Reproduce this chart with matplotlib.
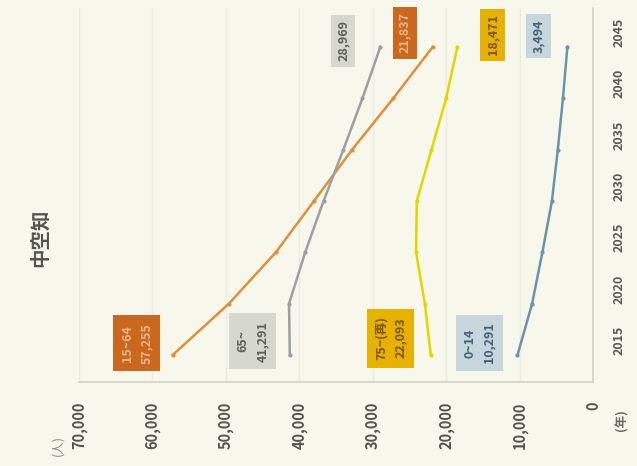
import matplotlib.pyplot as plt

plt.rcParams['font.family'] = ['Noto Sans CJK JP', 'DejaVu Sans']

# 中空知 年齢区分別人口の推移
years = [2015, 2020, 2025, 2030, 2035, 2040, 2045]
age_0_14 = [10291, 8300, 6900, 5600, 4800, 4100, 3494]
age_15_64 = [57255, 49600, 43200, 38000, 32800, 27200, 21837]
age_65 = [41291, 41400, 39200, 36700, 34000, 31400, 28969]
age_75 = [22093, 22900, 24100, 24000, 22000, 20000, 18471]

value_ticks = [0, 10000, 20000, 30000, 40000, 50000, 60000, 70000]

bg = '#f7f8eb'

fig = plt.figure(figsize=(6.37, 4.66), dpi=100, facecolor=bg)
ax = fig.add_axes([0.124, 0.180, 0.807, 0.803], facecolor=bg)

# 横倒しのレイアウト: 人口を横軸(右が0)、年を縦軸に取る
series = [
    # values, line color, box color, text color, name, start offset, end offset
    (age_15_64, '#e08e3c', '#c9681e', '#eab48a', '15~64', (-36, 12), (-28, 14)),
    (age_65, '#9d9ea6', '#d6d7cd', '#5e5f5a', '65~', (-37, 14), (-37, 6)),
    (age_75, '#e2d600', '#e6b100', '#7a5500', '75~(再)', (-40, 17), (35, 12)),
    (age_0_14, '#6d92aa', '#c6d6dc', '#3f6379', '0~14', (-38, 12), (-29, 11)),
]

for vals, lc, bc, tc, name, off0, off1 in series:
    ax.plot(vals, years, color=lc, lw=1.8, marker='o', ms=2, zorder=3)
    ax.annotate(f'{name}\n{vals[0]:,}', (vals[0], years[0]), xytext=off0,
                textcoords='offset pixels', rotation=90, ha='center', va='center',
                fontsize=9, fontweight='bold', color=tc, linespacing=1.6,
                bbox=dict(boxstyle='square,pad=0.6', fc=bc, ec='none'), zorder=4)
    ax.annotate(f'{vals[-1]:,}', (vals[-1], years[-1]), xytext=off1,
                textcoords='offset pixels', rotation=90, ha='center', va='center',
                fontsize=9, fontweight='bold', color=tc,
                bbox=dict(boxstyle='square,pad=0.45', fc=bc, ec='none'), zorder=4)

ax.set_xlim(70000, 0)
ax.set_ylim(2012.37, 2048.8)

ax.set_xticks(value_ticks)
ax.set_xticklabels([f'{v:,}' for v in value_ticks], rotation=90, va='top',
                   ha='center', fontsize=10.5, fontweight='bold', color='#55554f')
ax.set_yticks(years)
ax.yaxis.tick_right()
ax.set_yticklabels([str(y) for y in years], rotation=90, va='bottom',
                   ha='left', fontsize=9, fontweight='bold', color='#5a5a54')
ax.tick_params(axis='x', length=0, pad=14)
ax.tick_params(axis='y', length=0, pad=14)

ax.grid(axis='x', color='#ecedde', lw=1)
ax.set_axisbelow(True)
for side in ['left', 'top']:
    ax.spines[side].set_visible(False)
for side in ['right', 'bottom']:
    ax.spines[side].set_color('#d2d3c8')
    ax.spines[side].set_linewidth(1.2)

fig.text(0.063, 0.489, '中空知', rotation=90, ha='center', va='center',
         fontsize=14, fontweight='bold', color='#55554f')
fig.text(0.091, 0.045, '(人)', rotation=90, ha='center', va='center',
         fontsize=9, color='#8a8a84')
fig.text(0.976, 0.099, '(年)', rotation=90, ha='center', va='center',
         fontsize=9, fontweight='bold', color='#6a6a64')

fig.savefig('out.png', dpi=100, facecolor=bg)
